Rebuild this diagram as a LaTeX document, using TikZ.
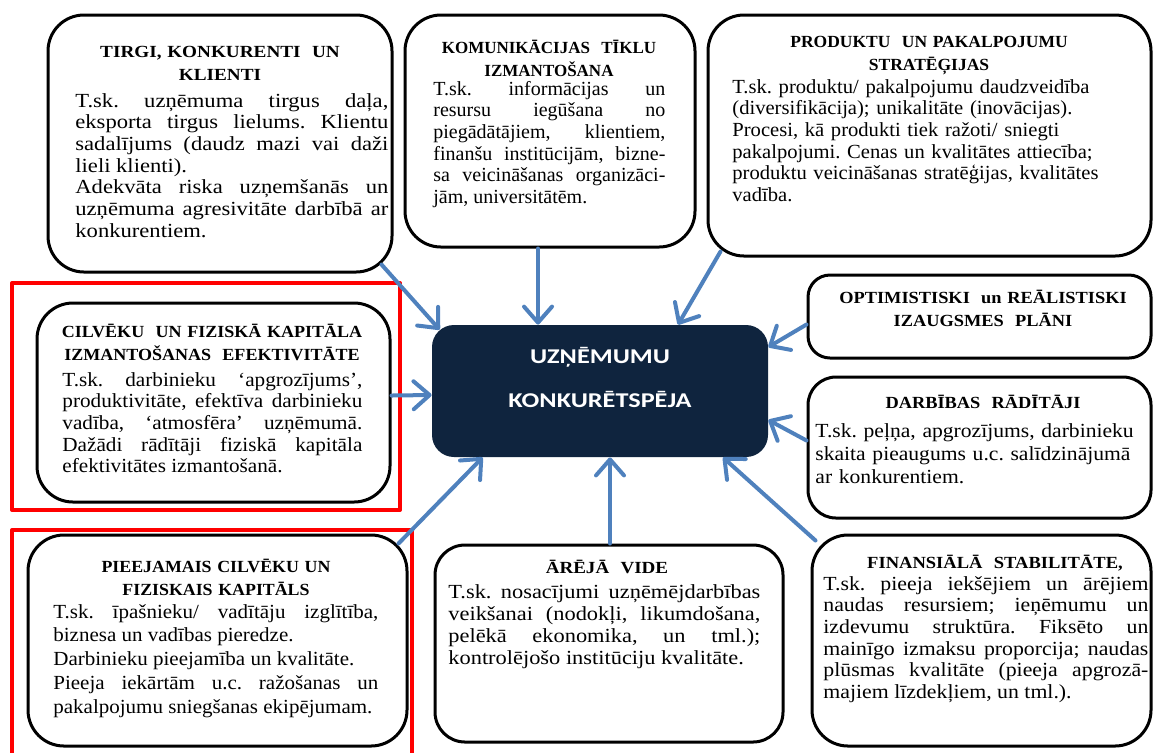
\documentclass[tikz,border=0pt]{standalone}
\usepackage{fontspec}
\setmainfont{Liberation Serif}
\newfontfamily\tirgifont{Liberation Serif}[FakeStretch=1.13]
\newfontfamily\komufont{Liberation Serif}[FakeStretch=1.0]
\newfontfamily\prodfont{Liberation Serif}[FakeStretch=1.03]
\newfontfamily\cilvfont{Liberation Serif}[FakeStretch=1.06]
\newfontfamily\darbfont{Liberation Serif}[FakeStretch=1.08]
\newfontfamily\pieejfont{Liberation Serif}[FakeStretch=1.05]
\newfontfamily\arejafont{Liberation Serif}[FakeStretch=1.12]
\newfontfamily\finfont{Liberation Serif}[FakeStretch=1.09]
\newfontfamily\hubfont{Carlito}[FakeStretch=1.25]
\usetikzlibrary{arrows.meta,calc,fit}
\definecolor{hubnavy}{HTML}{0F243E}
\definecolor{flowblue}{HTML}{4F81BD}
\definecolor{markred}{HTML}{FF0000}
\newcommand\ttlsize{\fontsize{8.5}{11.5}\selectfont\bfseries}
\newcommand\txtsize{\fontsize{10}{10.85}\selectfont}
\hyphenpenalty=10000
\tolerance=9999
\frenchspacing

\begin{document}
\begin{tikzpicture}[x=0.5pt, y=-0.5pt, line join=round,
  panel/.style={draw, line width=1.5pt, rounded corners=18pt, inner sep=0pt},
  hubbox/.style={fill=hubnavy, rounded corners=11pt, inner sep=0pt},
  ttl/.style={inner sep=0pt, anchor=base, align=center},
  body/.style={inner sep=0pt, anchor=base west, align=justify},
  hubtxt/.style={inner sep=0pt, anchor=base, align=center, text width=150pt, text=white,
    font=\hubfont\bfseries\fontsize{10.5}{22}\selectfont},
  flow/.style={draw=flowblue, line width=2pt, line cap=round,
    -{Straight Barb[round, length=8pt, width=14pt]}},
  marker/.style={draw=markred, line width=2pt}]
  \useasboundingbox (0,0) rectangle (1154,752);

  % red marks round the two left boxes
  \draw[marker] (12,283) rectangle (400,510);
  \draw[marker] (12,760) -- (12,530) -- (412,530) -- (412,760);

  % boxes
  \node[panel, fit={(48,15) (392,272)}] (tirgi) {};
  \node[panel, fit={(405,15) (695,247)}] (komu) {};
  \node[panel, fit={(708,15) (1151,256)}] (prod) {};
  \node[panel, fit={(37,303) (390,502)}] (cilv) {};
  \node[panel, rounded corners=11pt, fit={(808,275) (1151,358)}] (optim) {};
  \node[panel, rounded corners=14pt, fit={(808,377) (1151,518)}] (darb) {};
  \node[panel, fit={(28,535) (407,746)}] (pieej) {};
  \node[panel, rounded corners=15pt, fit={(435,545) (783,742)}] (areja) {};
  \node[panel, fit={(812,535) (1151,746)}] (fin) {};
  \node[hubbox, fit={(432,325) (768,457)}] (hub) {};
  \node[hubtxt] (hubT) at (600,363) {UZŅĒMUMU\\KONKURĒTSPĒJA};

  % texts
  \node[ttl, text width=160pt, font=\tirgifont\ttlsize] (tirgiT) at (220,57) {TIRGI, KONKURENTI\ \ UN\\KLIENTI};
  \node[body, text width=156.5pt, font=\tirgifont\txtsize] (tirgiB) at (75,107)
    {T.sk. uzņēmuma tirgus daļa,\linebreak eksporta tirgus lielums. Klientu\linebreak sadalījums (daudz mazi vai daži\linebreak lieli klienti).\\Adekvāta riska uzņemšanās un\linebreak uzņēmuma agresivitāte darbībā ar\linebreak konkurentiem.};

  \node[ttl, text width=140pt, font=\komufont\ttlsize] (komuT) at (549,53) {KOMUNIKĀCIJAS\ \ TĪKLU\\IZMANTOŠANA};
  \node[body, text width=116pt, font=\komufont\txtsize] (komuB) at (433,95)
    {T.sk. informācijas un\linebreak resursu iegūšana no\linebreak piegādātājiem, klientiem,\linebreak finanšu institūcijām, bizne-\linebreak sa veicināšanas organizāci-\linebreak jām, universitātēm.};

  \node[ttl, text width=200pt, font=\prodfont\ttlsize] (prodT) at (929,47) {PRODUKTU\ \ UN PAKALPOJUMU\\STRATĒĢIJAS};
  \node[body, align=left, text width=200pt, font=\prodfont\txtsize] (prodB) at (732,93)
    {T.sk. produktu/ pakalpojumu daudzveidība\\(diversifikācija); unikalitāte (inovācijas).\\Procesi, kā produkti tiek ražoti/ sniegti\\pakalpojumi. Cenas un kvalitātes attiecība;\\produktu veicināšanas stratēģijas, kvalitātes\\vadība.};

  \node[ttl, text width=170pt, font=\cilvfont\ttlsize] (cilvT) at (212,337) {CILVĒKU\ \ UN FIZISKĀ KAPITĀLA\\IZMANTOŠANAS\ \ EFEKTIVITĀTE};
  \node[body, text width=150pt, font=\cilvfont\txtsize] (cilvB) at (62,386)
    {T.sk. darbinieku ‘apgrozījums’,\linebreak produktivitāte, efektīva darbinieku\linebreak vadība, ‘atmosfēra’ uzņēmumā.\linebreak Dažādi rādītāji fiziskā kapitāla\linebreak efektivitātes izmantošanā.};

  \node[ttl, text width=170pt, font=\darbfont\ttlsize] (optimT) at (983,303) {OPTIMISTISKI\ \ un REĀLISTISKI\\IZAUGSMES\ \ PLĀNI};

  \node[ttl, text width=170pt, font=\darbfont\ttlsize] (darbT) at (983,408) {DARBĪBAS\ \ RĀDĪTĀJI};
  \node[body, align=left, text width=165pt, font=\darbfont\fontsize{10}{11.5}\selectfont] (darbB) at (815,437)
    {T.sk. peļņa, apgrozījums, darbinieku\\skaita pieaugums u.c. salīdzinājumā\\ar konkurentiem.};

  \node[ttl, text width=180pt, font=\pieejfont\ttlsize] (pieejT) at (216,572) {PIEEJAMAIS CILVĒKU UN\\FIZISKAIS KAPITĀLS};
  \node[body, text width=162.5pt, font=\pieejfont\fontsize{10}{11.9}\selectfont] (pieejB) at (53,618)
    {T.sk. īpašnieku/ vadītāju izglītība,\linebreak biznesa un vadības pieredze.\\Darbinieku pieejamība un kvalitāte.\\Pieeja iekārtām u.c. ražošanas un\linebreak pakalpojumu sniegšanas ekipējumam.};

  \node[ttl, text width=160pt, font=\arejafont\ttlsize] (arejaT) at (607,573) {ĀRĒJĀ\ \ VIDE};
  \node[body, text width=156pt, font=\arejafont\fontsize{10}{11.15}\selectfont] (arejaB) at (448,598)
    {T.sk. nosacījumi uzņēmējdarbības\linebreak veikšanai (nodokļi, likumdošana,\linebreak pelēkā ekonomika, un tml.);\linebreak kontrolējošo institūciju kvalitāte.};

  \node[ttl, text width=165pt, font=\finfont\ttlsize] (finT) at (995,568) {FINANSIĀLĀ\ \ STABILITĀTE,};
  \node[body, text width=162.5pt, font=\finfont\txtsize] (finB) at (823,590)
    {T.sk. pieeja iekšējiem un ārējiem\linebreak naudas resursiem; ieņēmumu un\linebreak izdevumu struktūra. Fiksēto un\linebreak mainīgo izmaksu proporcija; naudas\linebreak plūsmas kvalitāte (pieeja apgrozā-\linebreak majiem līzdekļiem, un tml.).};

  % arrows into the hub
  \draw[flow] ($(tirgi.south east)+(-12,-9)$) -- ($(hub.north west)+(8,5)$);
  \draw[flow] ($(komu.south)+(-12,0)$) -- ($(hub.north)+(-62,0)$);
  \draw[flow] ($(prod.south west)+(14,-6)$) -- ($(hub.north)+(78,0)$);
  \draw[flow] ($(optim.west)+(0,8)$) -- ($(hub.east)+(0,-44)$);
  \draw[flow] ($(darb.west)+(0,-7)$) -- ($(hub.east)+(0,29)$);
  \draw[flow] ($(cilv.east)+(0,-7)$) -- ($(hub.west)+(0,4)$);
  \draw[flow] ($(pieej.north east)+(-10,10)$) -- ($(hub.south west)+(51,0)$);
  \draw[flow] ($(areja.north)+(1,0)$) -- ($(hub.south)+(10,0)$);
  \draw[flow] ($(fin.north west)+(5,7)$) -- ($(hub.south)+(123,0)$);
\end{tikzpicture}
\end{document}
